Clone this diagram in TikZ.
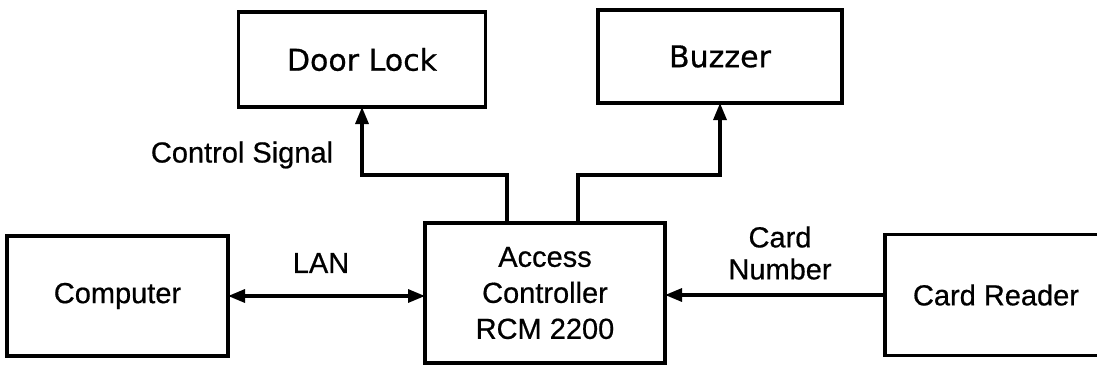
\documentclass[tikz,border=0pt]{standalone}
\usepackage{fontspec}
\setmainfont{Liberation Sans}[FakeBold=0.6]
\newfontfamily\dejavu{DejaVu Sans}[FakeBold=0.6]
\usetikzlibrary{arrows.meta}
\begin{document}
\begin{tikzpicture}[x=1pt,y=-1pt,
  box/.style={draw,line width=3.2pt,inner sep=0pt,outer sep=0pt,align=center,
    font=\fontsize{29}{36}\selectfont},
  devbox/.style={box,font=\dejavu\fontsize{30}{36}\selectfont},
  lbl/.style={inner sep=0pt,align=center,font=\fontsize{29}{32}\selectfont},
  wire/.style={line width=3.2pt},
  tip/.tip={Triangle[length=17pt,width=13pt]},
  arr/.style={wire,-tip},
  dbl/.style={wire,tip-tip}]
\useasboundingbox (0,0) rectangle (1097,367);
\clip (0,0) rectangle (1097,367);

% blocks
\node[devbox,minimum width=247pt,minimum height=95pt] (door) at (362,59.5) {Door Lock};
\node[devbox,minimum width=244pt,minimum height=93pt] (buz) at (720,56.5) {Buzzer};
\node[box,minimum width=240pt,minimum height=140pt] (acc) at (545,293) {Access\\Controller\\RCM 2200};
\node[box,minimum width=221pt,minimum height=120pt] (comp) at (117.5,296) {Computer};
\node[box,minimum width=222pt,minimum height=121pt] (card) at (996,295) {Card Reader};

% labels
\node[lbl] (lctl) at (242,155) {Control Signal};
\node[lbl] (llan) at (321,263) {LAN};
\node[lbl] (lcard) at (780,253) {Card\\Number};

% connectors
\draw[arr] ([xshift=-38pt]acc.north) |- ([yshift=-68pt]door.south) -- (door.south);
\draw[arr] ([xshift=33pt]acc.north) |- ([yshift=-72pt]buz.south) -- (buz.south);
\draw[dbl] (comp.east) -- (acc.west |- comp.east);
\draw[arr] (card.west) -- (acc.east |- card.west);
\end{tikzpicture}
\end{document}
